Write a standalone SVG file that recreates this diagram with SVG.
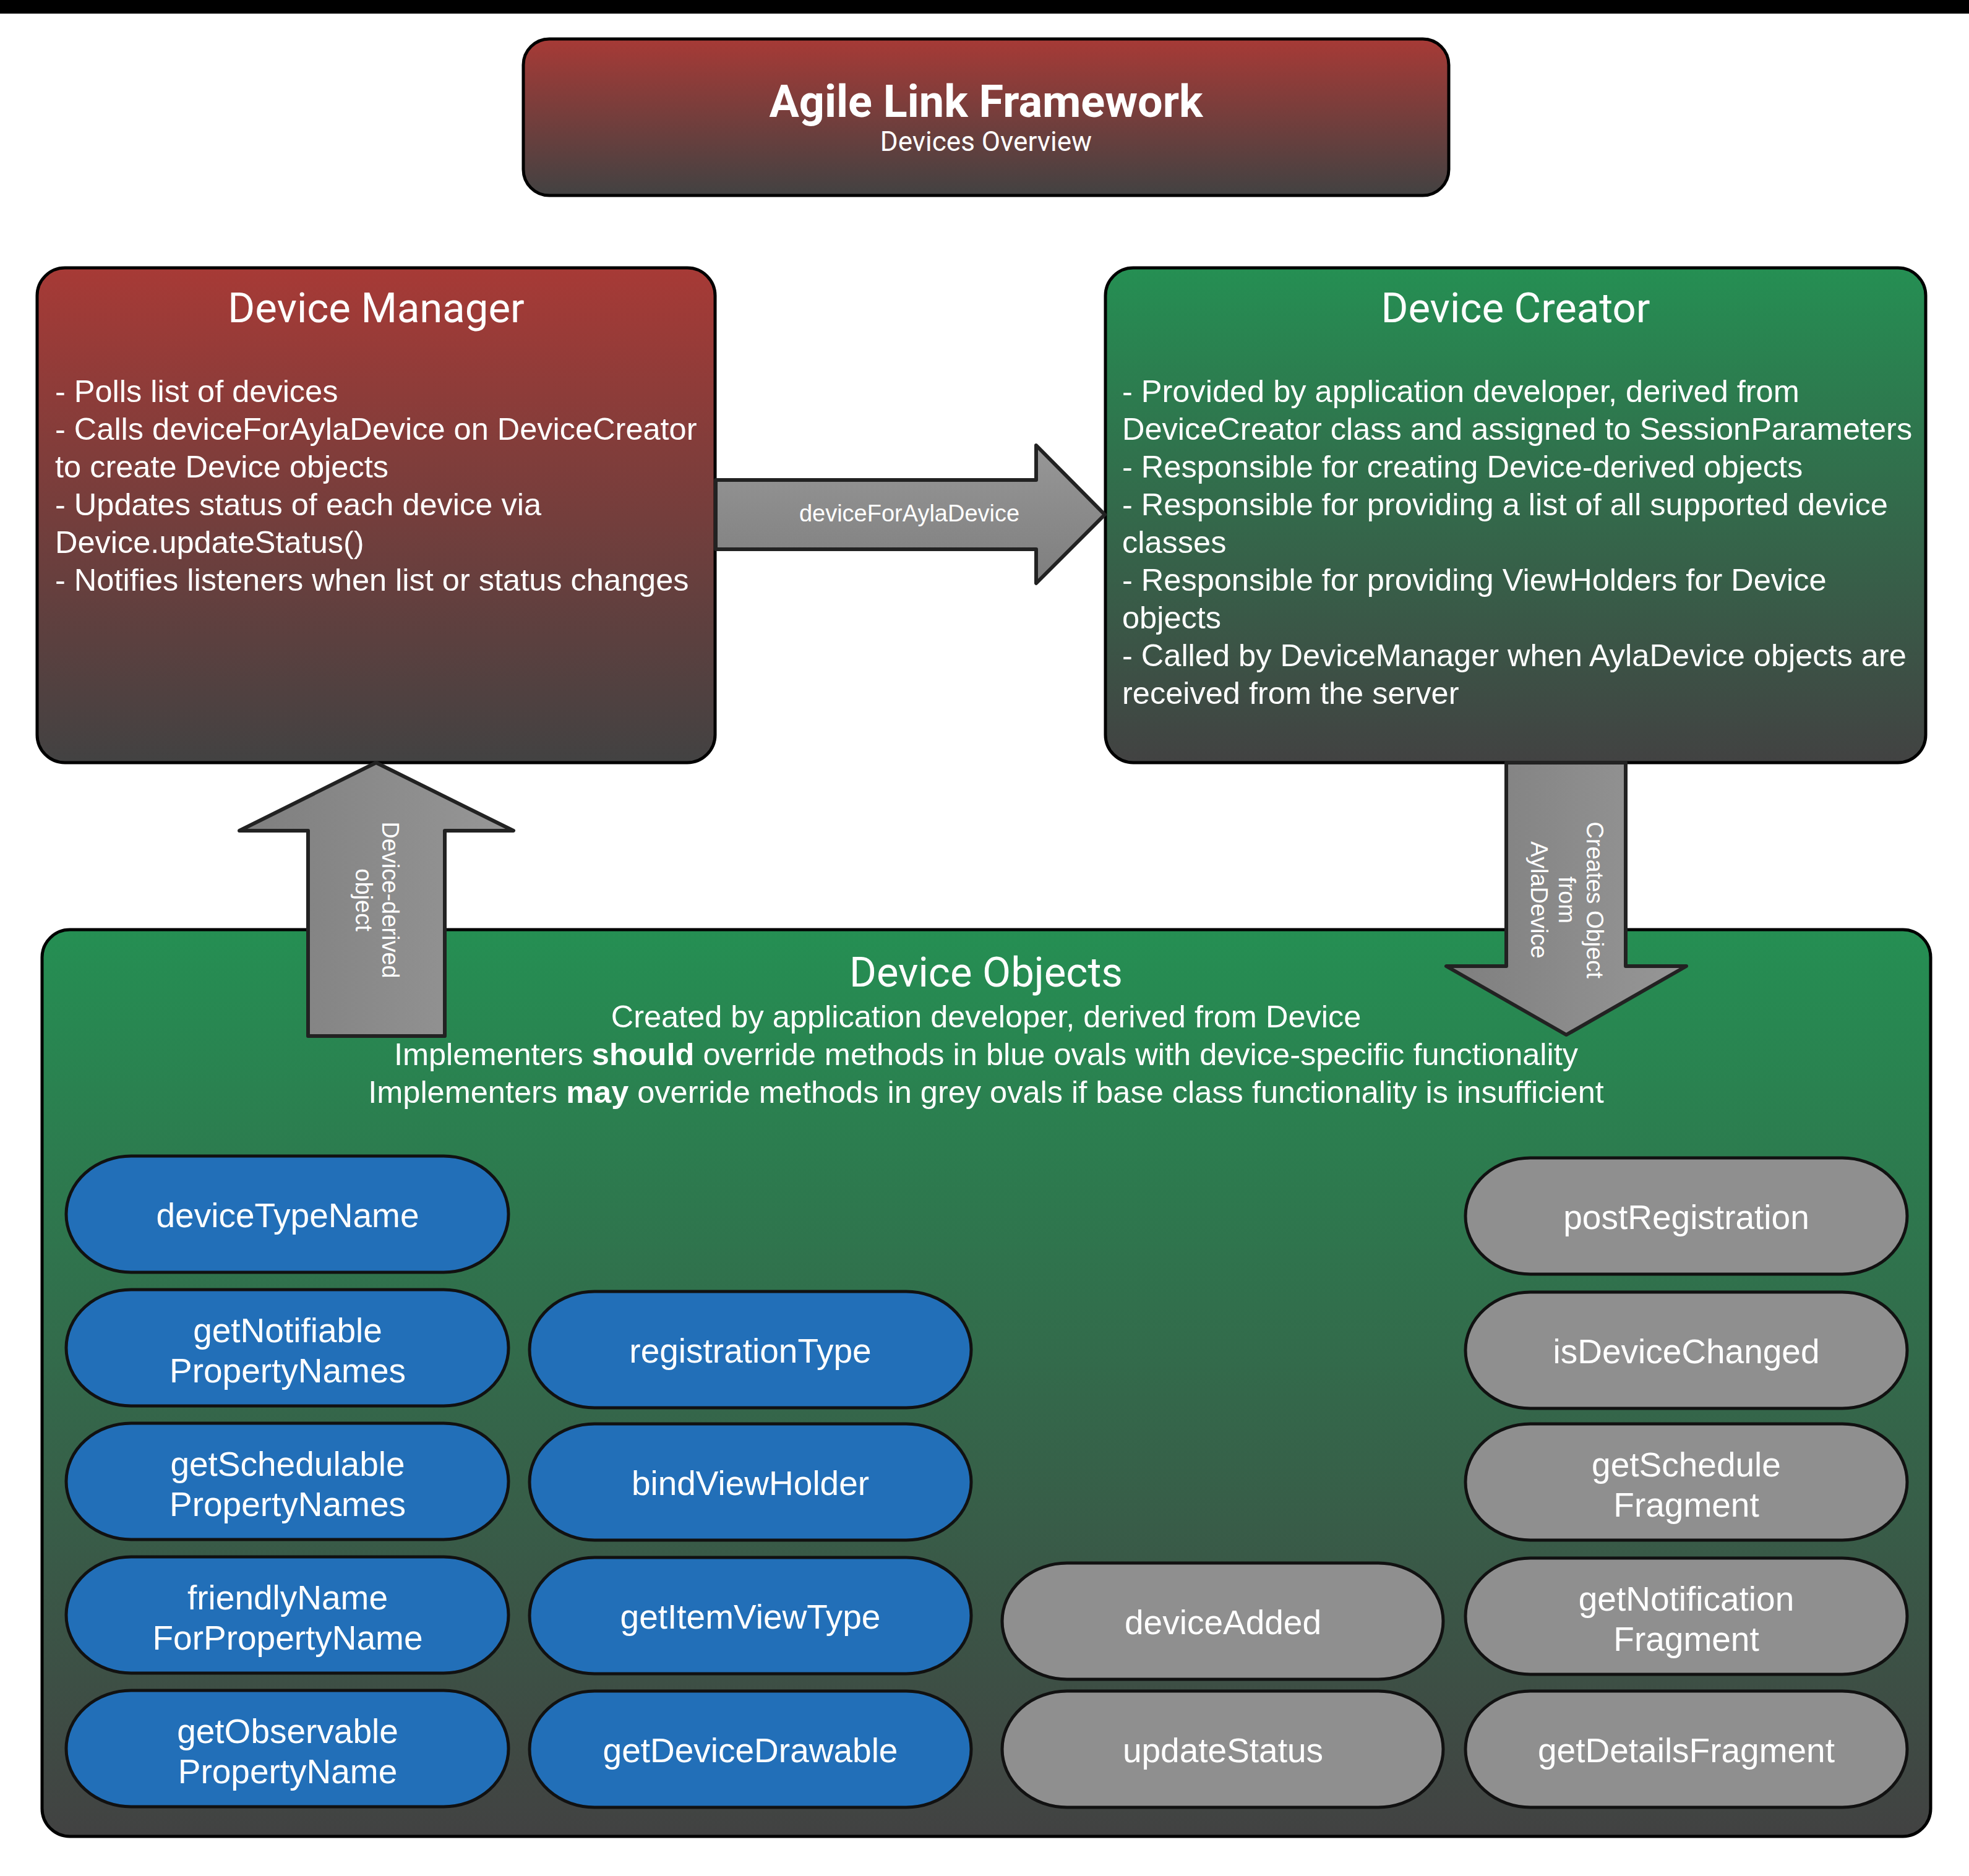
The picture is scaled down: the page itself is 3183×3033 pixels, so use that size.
<svg xmlns="http://www.w3.org/2000/svg" width="3183" height="3033" viewBox="0 0 3183 3033">
<defs>
  <linearGradient id="gRed" x1="0" y1="0" x2="0" y2="1">
    <stop offset="0" stop-color="#a73a36"/>
    <stop offset="1" stop-color="#424242"/>
  </linearGradient>
  <linearGradient id="gGreen" x1="0" y1="0" x2="0" y2="1">
    <stop offset="0" stop-color="#258f53"/>
    <stop offset="1" stop-color="#424242"/>
  </linearGradient>
  <linearGradient id="gArrowH" x1="0" y1="0" x2="0" y2="1">
    <stop offset="0" stop-color="#979797"/>
    <stop offset="1" stop-color="#7e7e7e"/>
  </linearGradient>
  <linearGradient id="gArrowV" x1="0" y1="0" x2="1" y2="0">
    <stop offset="0" stop-color="#7e7e7e"/>
    <stop offset="1" stop-color="#979797"/>
  </linearGradient>
  <style>
    .box { stroke: #000; stroke-width: 5; }
    .head { font-family: Roboto, "Noto Sans", sans-serif; fill: #fff; text-anchor: middle; }
    .body { font-family: "Liberation Sans", Arial, sans-serif; font-size: 50.5px; fill: #fff; }
    .ctr { text-anchor: middle; }
    .oval { stroke: #111; stroke-width: 5; }
    .blue { fill: #226fb8; }
    .grey { fill: #8f8f8f; }
    .ot { font-family: "Liberation Sans", Arial, sans-serif; font-size: 55px; fill: #fff; text-anchor: middle; }
    .arrow { stroke: #222; stroke-width: 6; stroke-linejoin: round; }
    .al { font-family: "Liberation Sans", Arial, sans-serif; font-size: 38px; fill: #fff; text-anchor: middle; }
  </style>
</defs>
<rect x="0" y="0" width="3183" height="3033" fill="#fff"/>
<rect x="0" y="0" width="3183" height="22" fill="#000"/>

<g id="title">
  <rect class="box" x="846" y="63" width="1496" height="253" rx="42" ry="42" fill="url(#gRed)"/>
  <text class="head" x="1594" y="189" font-size="72" font-weight="bold">Agile Link Framework</text>
  <text class="head" x="1594" y="244" font-size="44">Devices Overview</text>
</g>

<g id="device-manager">
  <rect class="box" x="60" y="433" width="1096" height="800" rx="45" ry="45" fill="url(#gRed)"/>
  <text class="head" x="608" y="521" font-size="67">Device Manager</text>
  <text class="body" x="89" y="650">- Polls list of devices</text>
  <text class="body" x="89" y="711">- Calls deviceForAylaDevice on DeviceCreator</text>
  <text class="body" x="89" y="772">to create Device objects</text>
  <text class="body" x="89" y="833">- Updates status of each device via</text>
  <text class="body" x="89" y="894">Device.updateStatus()</text>
  <text class="body" x="89" y="955">- Notifies listeners when list or status changes</text>
</g>

<g id="device-creator">
  <rect class="box" x="1787" y="433" width="1326" height="800" rx="45" ry="45" fill="url(#gGreen)"/>
  <text class="head" x="2450" y="521" font-size="67">Device Creator</text>
  <text class="body" x="1814" y="650">- Provided by application developer, derived from</text>
  <text class="body" x="1814" y="711">DeviceCreator class and assigned to SessionParameters</text>
  <text class="body" x="1814" y="772">- Responsible for creating Device-derived objects</text>
  <text class="body" x="1814" y="833">- Responsible for providing a list of all supported device</text>
  <text class="body" x="1814" y="894">classes</text>
  <text class="body" x="1814" y="955">- Responsible for providing ViewHolders for Device</text>
  <text class="body" x="1814" y="1016">objects</text>
  <text class="body" x="1814" y="1077">- Called by DeviceManager when AylaDevice objects are</text>
  <text class="body" x="1814" y="1138">received from the server</text>
</g>

<g id="device-objects">
  <rect class="box" x="68" y="1503" width="3053" height="1466" rx="45" ry="45" fill="url(#gGreen)"/>
  <text class="head" x="1594" y="1595" font-size="67">Device Objects</text>
  <text class="body ctr" x="1594" y="1661">Created by application developer, derived from Device</text>
  <text class="body ctr" x="1594" y="1722">Implementers <tspan font-weight="bold">should</tspan> override methods in blue ovals with device-specific functionality</text>
  <text class="body ctr" x="1594" y="1783">Implementers <tspan font-weight="bold">may</tspan> override methods in grey ovals if base class functionality is insufficient</text>
</g>

<g id="oval-deviceTypeName">
  <rect class="oval blue" x="107" y="1869" width="715" height="188" rx="105" ry="94"/>
  <text class="ot" x="465" y="1984">deviceTypeName</text>
</g>
<g id="oval-getNotifiablePropertyNames">
  <rect class="oval blue" x="107" y="2085" width="715" height="188" rx="105" ry="94"/>
  <text class="ot" x="465" y="2170">getNotifiable</text>
  <text class="ot" x="465" y="2235">PropertyNames</text>
</g>
<g id="oval-getSchedulablePropertyNames">
  <rect class="oval blue" x="107" y="2301" width="715" height="188" rx="105" ry="94"/>
  <text class="ot" x="465" y="2386">getSchedulable</text>
  <text class="ot" x="465" y="2451">PropertyNames</text>
</g>
<g id="oval-friendlyNameForPropertyName">
  <rect class="oval blue" x="107" y="2517" width="715" height="188" rx="105" ry="94"/>
  <text class="ot" x="465" y="2602">friendlyName</text>
  <text class="ot" x="465" y="2667">ForPropertyName</text>
</g>
<g id="oval-getObservablePropertyName">
  <rect class="oval blue" x="107" y="2733" width="715" height="188" rx="105" ry="94"/>
  <text class="ot" x="465" y="2818">getObservable</text>
  <text class="ot" x="465" y="2883">PropertyName</text>
</g>

<g id="oval-registrationType">
  <rect class="oval blue" x="856" y="2088" width="714" height="188" rx="105" ry="94"/>
  <text class="ot" x="1213" y="2203">registrationType</text>
</g>
<g id="oval-bindViewHolder">
  <rect class="oval blue" x="856" y="2302" width="714" height="188" rx="105" ry="94"/>
  <text class="ot" x="1213" y="2417">bindViewHolder</text>
</g>
<g id="oval-getItemViewType">
  <rect class="oval blue" x="856" y="2518" width="714" height="188" rx="105" ry="94"/>
  <text class="ot" x="1213" y="2633">getItemViewType</text>
</g>
<g id="oval-getDeviceDrawable">
  <rect class="oval blue" x="856" y="2734" width="714" height="188" rx="105" ry="94"/>
  <text class="ot" x="1213" y="2849">getDeviceDrawable</text>
</g>

<g id="oval-deviceAdded">
  <rect class="oval grey" x="1620" y="2527" width="713" height="188" rx="105" ry="94"/>
  <text class="ot" x="1977" y="2642">deviceAdded</text>
</g>
<g id="oval-updateStatus">
  <rect class="oval grey" x="1620" y="2734" width="713" height="188" rx="105" ry="94"/>
  <text class="ot" x="1977" y="2849">updateStatus</text>
</g>

<g id="oval-postRegistration">
  <rect class="oval grey" x="2369" y="1872" width="714" height="188" rx="105" ry="94"/>
  <text class="ot" x="2726" y="1987">postRegistration</text>
</g>
<g id="oval-isDeviceChanged">
  <rect class="oval grey" x="2369" y="2089" width="714" height="188" rx="105" ry="94"/>
  <text class="ot" x="2726" y="2204">isDeviceChanged</text>
</g>
<g id="oval-getScheduleFragment">
  <rect class="oval grey" x="2369" y="2302" width="714" height="188" rx="105" ry="94"/>
  <text class="ot" x="2726" y="2387">getSchedule</text>
  <text class="ot" x="2726" y="2452">Fragment</text>
</g>
<g id="oval-getNotificationFragment">
  <rect class="oval grey" x="2369" y="2519" width="714" height="188" rx="105" ry="94"/>
  <text class="ot" x="2726" y="2604">getNotification</text>
  <text class="ot" x="2726" y="2669">Fragment</text>
</g>
<g id="oval-getDetailsFragment">
  <rect class="oval grey" x="2369" y="2734" width="714" height="188" rx="105" ry="94"/>
  <text class="ot" x="2726" y="2849">getDetailsFragment</text>
</g>

<g id="connectors">
  <g id="conn-deviceForAylaDevice">
    <polygon class="arrow" fill="url(#gArrowH)" points="1157,776 1675,776 1675,720 1786,832 1675,943 1675,888 1157,888"/>
    <text class="al" x="1470" y="843">deviceForAylaDevice</text>
  </g>
  <g id="conn-device-derived-object">
    <polygon class="arrow" fill="url(#gArrowV)" points="608,1233 830,1343 719,1343 719,1675 498,1675 498,1343 387,1343"/>
    <g transform="translate(608,1455) rotate(90)">
      <text class="al" x="0" y="-10">Device-derived</text>
      <text class="al" x="0" y="33">object</text>
    </g>
  </g>
  <g id="conn-creates-object">
    <polygon class="arrow" fill="url(#gArrowV)" points="2435,1233 2628,1233 2628,1562 2726,1562 2532,1673 2338,1562 2435,1562"/>
    <g transform="translate(2531,1455) rotate(90)">
      <text class="al" x="0" y="-34">Creates Object</text>
      <text class="al" x="0" y="11">from</text>
      <text class="al" x="0" y="56">AylaDevice</text>
    </g>
  </g>
</g>
</svg>
